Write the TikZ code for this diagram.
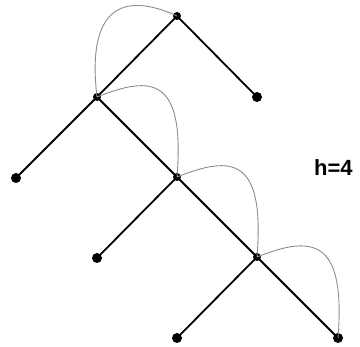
\documentclass[tikz,border=0pt]{standalone}
\usepackage{fontspec}
\setmainfont{Liberation Sans}
\begin{document}
\begin{tikzpicture}[x=1pt,y=-1pt,
  leaf/.style={circle,fill=black,inner sep=0pt,minimum size=10pt},
  inner/.style={circle,fill=black,inner sep=0pt,minimum size=8pt},
  edge/.style={line width=1.8pt,black},
  arc/.style={line width=0.9pt,black!45}]
\useasboundingbox (0,0) rectangle (360,347);
\node[inner] (r) at (177,16) {};
\node[leaf] (rr) at (257,97) {};
\node[inner] (a) at (97,97) {};
\node[leaf] (al) at (16,178) {};
\node[inner] (b) at (177,177) {};
\node[leaf] (bl) at (97,258) {};
\node[inner] (c) at (257,257) {};
\node[leaf] (cl) at (177,338) {};
\node[leaf] (cr) at (338,338) {};
\draw[edge] (r.center) -- (rr.center);
\draw[edge] (r.center) -- (a.center);
\draw[edge] (a.center) -- (al.center);
\draw[edge] (a.center) -- (b.center);
\draw[edge] (b.center) -- (bl.center);
\draw[edge] (b.center) -- (c.center);
\draw[edge] (c.center) -- (cl.center);
\draw[edge] (c.center) -- (cr.center);
\draw[arc] (a.center) .. controls +(-11,-92) and +(-52,-24) .. (r.center);
\draw[arc] (a.center) .. controls +(55,-22) and +(8,-100) .. (b.center);
\draw[arc] (b.center) .. controls +(55,-22) and +(8,-100) .. (c.center);
\draw[arc] (c.center) .. controls +(55,-22) and +(8,-100) .. (cr.center);
\node[anchor=base west,inner sep=0pt,font=\fontsize{22}{22}\selectfont\bfseries] (h) at (314,176) {h=4};
\end{tikzpicture}
\end{document}
